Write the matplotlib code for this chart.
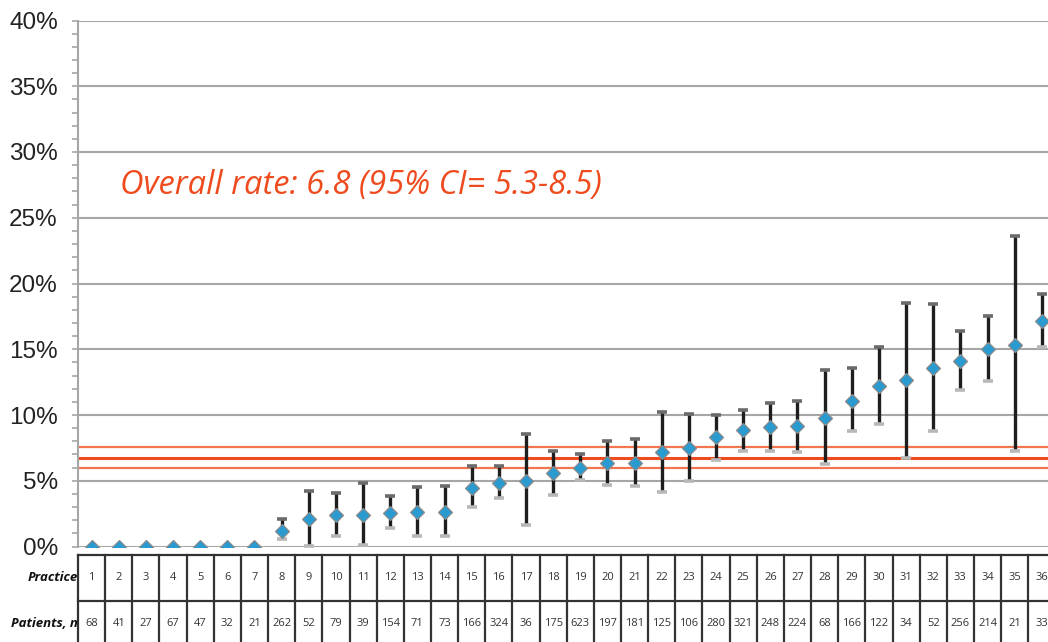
import numpy as np
import matplotlib
matplotlib.use('Agg')
import matplotlib.pyplot as plt

# datos
practica = list(range(1, 37))
pacientes = [68, 41, 27, 67, 47, 32, 21, 262, 52, 79, 39, 154, 71, 73, 166, 324, 36, 175,
             623, 197, 181, 125, 106, 280, 321, 248, 224, 68, 166, 122, 34, 52, 256, 214, 21, 33]
tasa = [0, 0, 0, 0, 0, 0, 0, 1.2, 2.1, 2.4, 2.4, 2.55, 2.65, 2.65, 4.45, 4.8, 5.0, 5.6,
        5.95, 6.35, 6.35, 7.15, 7.5, 8.3, 8.85, 9.1, 9.2, 9.75, 11.1, 12.2, 12.65, 13.55, 14.1, 15.0, 15.35, 17.15]
ic_inf = [np.nan]*7 + [0.55, 0.05, 0.8, 0.15, 1.4, 0.8, 0.8, 3.0, 3.7, 1.6, 3.95,
                       5.05, 4.7, 4.6, 4.15, 5.0, 6.6, 7.3, 7.3, 7.2, 6.3, 8.75, 9.35, 6.75, 8.8, 11.9, 12.6, 7.3, 15.15]
ic_sup = [np.nan]*7 + [2.1, 4.2, 4.05, 4.85, 3.85, 4.5, 4.6, 6.1, 6.1, 8.55, 7.3,
                       7.0, 8.05, 8.2, 10.25, 10.1, 10.0, 10.35, 10.9, 11.1, 13.4, 13.6, 15.2, 18.55, 18.45, 16.4, 17.5, 23.6, 19.2]
linea_global = 6.75
linea_ic = [5.95, 7.6]
titulo = 'Overall rate: 6.8 (95% CI= 5.3-8.5)'

W, H = 1048, 642
fig = plt.figure(figsize=(W/100, H/100), dpi=100)

x0 = 78 / W
ancho = 36 * 27.15 / W
ax = fig.add_axes([x0, (H - 546.5) / H, ancho, 526 / H])

x = np.arange(len(practica)) + 0.5

# lineas de referencia
ax.axhline(linea_ic[0], color='#F2764F', lw=1.6, zorder=2)
ax.axhline(linea_ic[1], color='#F2764F', lw=1.6, zorder=2)
ax.axhline(linea_global, color='#EE4B1E', lw=2.2, zorder=2)

# barras de error
ax.vlines(x, ic_inf, ic_sup, color='#1e1e1e', lw=2.4, zorder=3)
ax.plot(x, ic_sup, ls='none', marker='_', ms=7, mew=2.6, color='#6b6b6b', zorder=3)
ax.plot(x, ic_inf, ls='none', marker='_', ms=7, mew=2.6, color='#b8b8b8', zorder=3)
ax.plot(x, tasa, ls='none', marker='D', ms=7.5, color='#2A9BD0', mec='#8a8a8a', mew=0.9, zorder=4)

ax.set_xlim(0, 36)
ax.set_ylim(0, 40)
ax.set_yticks(np.arange(0, 41, 5))
ax.set_yticklabels([f'{v}%' for v in range(0, 41, 5)], fontsize=17.5, family='Liberation Sans', color='#222222')
ax.set_yticks(np.arange(0, 41, 1), minor=True)
ax.tick_params(axis='y', which='both', length=4, width=1.2, color='#a6a6a6', pad=10.5)
ax.set_xticks([])
ax.grid(axis='y', which='major', color='#a6a6a6', lw=1.5)
ax.set_axisbelow(True)
for s in ['top', 'right', 'bottom']:
    ax.spines[s].set_visible(False)
ax.spines['left'].set_color('#a6a6a6')
ax.spines['left'].set_linewidth(1.5)
ax.patch.set_alpha(0)

fig.text(120 / W, (H - 194) / H, titulo, color='#EE4B1E', fontsize=23.5,
         family='Open Sans', style='italic', va='baseline')

# tabla de abajo
tab = fig.add_axes([x0, (H - 646) / H, ancho, 91 / H])
tab.set_xlim(0, 36)
tab.set_ylim(0, 2)
tab.axis('off')
for i in range(37):
    tab.plot([i, i], [0, 2], color='#333333', lw=1.6, clip_on=False)
for yy in [0, 1, 2]:
    tab.plot([0, 36], [yy, yy], color='#333333', lw=1.6, clip_on=False)
for i in range(36):
    tab.text(x[i], 1.5, str(practica[i]), ha='center', va='center', fontsize=8, family='Open Sans', color='#333333')
    tab.text(x[i], 0.5, str(pacientes[i]), ha='center', va='center', fontsize=8, family='Open Sans', color='#333333')
tab.text(-0.02, 1.5, 'Practice', ha='right', va='center', fontsize=9.5, family='Open Sans',
         weight='bold', style='italic', color='#111111')
tab.text(-0.02, 0.5, 'Patients, n', ha='right', va='center', fontsize=9.5, family='Open Sans',
         weight='bold', style='italic', color='#111111')

fig.savefig('out.png', dpi=100)
